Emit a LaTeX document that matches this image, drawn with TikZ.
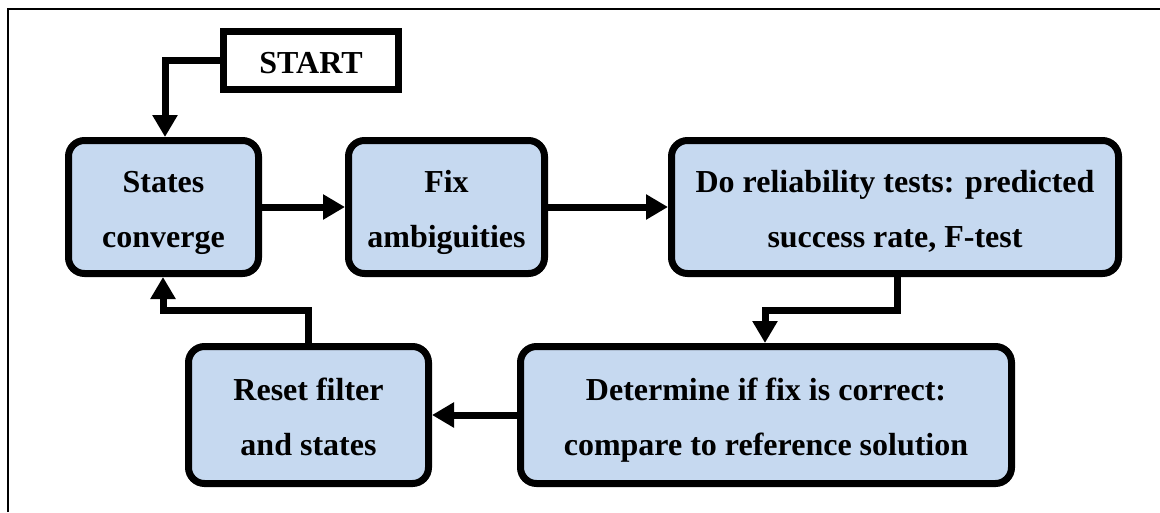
\documentclass[tikz,border=0pt]{standalone}
\usepackage{fontspec}
\setmainfont{Liberation Serif}
\usetikzlibrary{arrows.meta,positioning}
\definecolor{boxblue}{RGB}{198,217,240}
\newcommand{\toppad}{\rule{0pt}{35pt}}
\newcommand{\botpad}{\rule[-10pt]{0pt}{0pt}}
\begin{document}
\begin{tikzpicture}[x=1pt,y=-1pt,
  stepbox/.style={draw=black,line width=7pt,fill=boxblue,rounded corners=16pt,
    inner sep=0pt,align=center,font=\fontsize{32}{55}\selectfont\bfseries},
  flow/.style={line width=7pt,-{Triangle[length=22pt,width=24pt]}},
  ]
\useasboundingbox (0,0) rectangle (1160,512);
\draw[line width=2pt] (8,512) -- (8,9) -- (1160,9);
\node[draw=black,line width=7pt,fill=white,minimum width=175pt,minimum height=58pt,inner sep=0pt,
  font=\fontsize{32}{38}\selectfont\bfseries] (start) at (311,60.5) {\toppad START\botpad};
\node[stepbox,minimum width=190pt,minimum height=133pt] (s1) at (163.5,207) {\toppad States\\converge\botpad};
\node[stepbox,minimum width=196pt,minimum height=133pt] (s2) at (446.5,207) {\toppad Fix\\ambiguities\botpad};
\node[stepbox,minimum width=447pt,minimum height=133pt] (s3) at (895,207) {\toppad Do reliability tests: predicted\\success rate, F-test\botpad};
\node[stepbox,minimum width=491pt,minimum height=137pt] (s4) at (766,415) {\toppad Determine if fix is correct:\\compare to reference solution\botpad};
\node[stepbox,minimum width=240pt,minimum height=137pt] (s5) at (308.5,415) {\toppad Reset filter\\and states\botpad};
\coordinate (c1) at (165,60.5);
\coordinate (c2) at (897,310);
\coordinate (c3) at (765,310);
\coordinate (c4) at (308,310);
\coordinate (c5) at (163,310);
\draw[flow] (start.west) -- (c1) -- (s1.north -| c1);
\draw[flow] (s1.east) -- (s2.west);
\draw[flow] (s2.east) -- (s3.west);
\draw[flow] (s3.south -| c2) -- (c2) -- (c3) -- (s4.north -| c3);
\draw[flow] (s4.west) -- (s5.east);
\draw[flow] (s5.north -| c4) -- (c4) -- (c5) -- (s1.south -| c5);
\end{tikzpicture}
\end{document}
